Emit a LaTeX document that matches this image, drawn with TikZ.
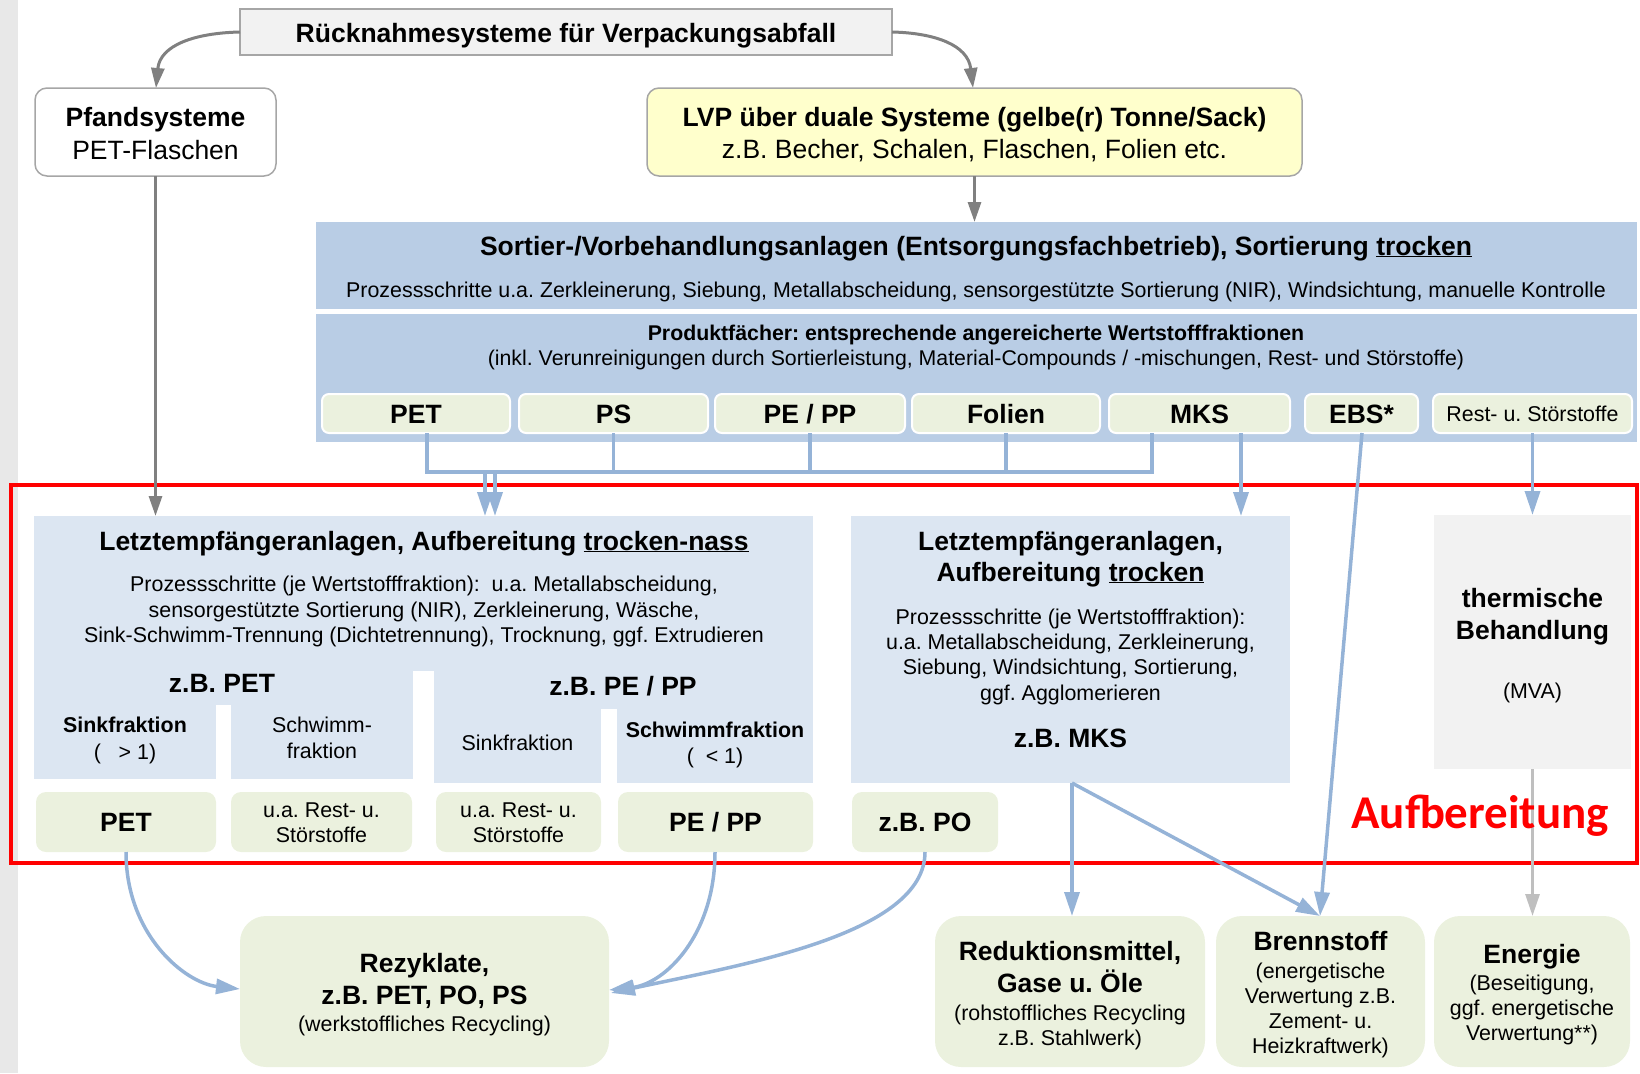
\documentclass[tikz,border=0pt]{standalone}
\usepackage{fontspec}
\setmainfont{Liberation Sans}
\newfontfamily\calfont{Carlito}
\usetikzlibrary{arrows.meta}
\frenchspacing
\definecolor{sortblue}{HTML}{B9CDE5}
\definecolor{lightblue}{HTML}{DCE6F2}
\definecolor{olivebg}{HTML}{EBF1DE}
\definecolor{yel}{HTML}{FFFFCC}
\definecolor{lgray}{HTML}{F2F2F2}
\definecolor{bgray}{HTML}{A6A6A6}
\definecolor{arrblue}{HTML}{95B3D7}
\definecolor{arrgray}{HTML}{808080}
\definecolor{arrlgray}{HTML}{BFBFBF}
\definecolor{stripgray}{HTML}{E8E8E8}
\newcommand\mybox[6]{\node[#6,anchor=north west,inner sep=0pt,outer sep=0pt,minimum width={#4-#2},minimum height={#5-#3}] (#1) at (#2,#3) {};}
\newcommand\tl[5]{\node[#4] (#1) at (#2,#3) {#5};}
\begin{document}
\frenchspacing
\begin{tikzpicture}[x=1pt,y=-1pt,
  txB/.style={font=\fontsize{26.5}{32}\selectfont\bfseries,anchor=base,inner sep=0pt},
  txR/.style={font=\fontsize{26.5}{32}\selectfont,anchor=base,inner sep=0pt},
  txS/.style={font=\fontsize{21.4}{25.5}\selectfont,anchor=base,inner sep=0pt},
  txSB/.style={font=\fontsize{21.4}{25.5}\selectfont\bfseries,anchor=base,inner sep=0pt},
  txP/.style={font=\fontsize{21.3}{25}\selectfont,anchor=base,inner sep=0pt},
  txPB/.style={font=\fontsize{21.3}{25}\selectfont\bfseries,anchor=base,inner sep=0pt},
  smallbox/.style={fill=olivebg,draw=white,line width=2pt,rounded corners=7pt},
  resbox/.style={fill=olivebg,rounded corners=10pt},
  bigres/.style={fill=olivebg,rounded corners=26pt},
  lbfill/.style={fill=lightblue},
  bl/.style={draw=arrblue,line width=3.5pt},
  bla/.style={draw=arrblue,line width=3.5pt,-{Triangle[length=24pt,width=15pt]},color=arrblue},
  gra/.style={draw=arrgray,line width=3pt,-{Triangle[length=20pt,width=13pt]},color=arrgray},
  lga/.style={draw=arrlgray,line width=3pt,-{Triangle[length=22pt,width=14pt]},color=arrlgray}
]
\useasboundingbox (0,0) rectangle (1640,1073);
\fill[stripgray] (0,0) rectangle (18,1073);

% top
\mybox{title}{240}{9}{892}{55}{fill=lgray,draw=bgray,line width=1.5pt}
\tl{tTitle}{566}{42.5}{txB}{Rücknahmesysteme für Verpackungsabfall}
\mybox{pfand}{35}{88}{276}{176}{fill=white,draw=bgray,line width=1.5pt,rounded corners=12pt}
\tl{tPf1}{155.5}{126}{txB}{Pfandsysteme}
\tl{tPf2}{155.5}{159}{txR}{PET-Flaschen}
\mybox{lvp}{647}{88}{1302}{176}{fill=yel,draw=bgray,line width=1.5pt,rounded corners=12pt}
\tl{tLv1}{974.5}{126}{txB}{LVP über duale Systeme (gelbe(r) Tonne/Sack)}
\tl{tLv2}{974.5}{158.5}{txR}{z.B. Becher, Schalen, Flaschen, Folien etc.}

% sorting
\mybox{sort}{316}{222}{1637}{309}{fill=sortblue}
\tl{tSo1}{976}{255}{txB}{Sortier-/Vorbehandlungsanlagen (Entsorgungsfachbetrieb), Sortierung \underline{trocken}}
\tl{tSo2}{976}{297.5}{txS}{Prozessschritte u.a. Zerkleinerung, Siebung, Metallabscheidung, sensorgestützte Sortierung (NIR), Windsichtung, manuelle Kontrolle}
\mybox{prod}{316}{314}{1637}{442}{fill=sortblue}
\tl{tPr1}{976}{340}{txPB}{Produktfächer: entsprechende angereicherte Wertstofffraktionen}
\tl{tPr2}{976}{365}{txP}{(inkl. Verunreinigungen durch Sortierleistung, Material-Compounds / -mischungen, Rest- und Störstoffe)}

\mybox{sPET}{322}{394}{510}{433}{smallbox}
\mybox{sPS}{519}{394}{708}{433}{smallbox}
\mybox{sPEPP}{715}{394}{905}{433}{smallbox}
\mybox{sFol}{912}{394}{1100}{433}{smallbox}
\mybox{sMKS}{1109}{394}{1290}{433}{smallbox}
\mybox{sEBS}{1305}{394}{1418}{433}{smallbox}
\mybox{sRest}{1433}{394}{1632}{433}{smallbox}
\tl{tsPET}{416}{423}{txB}{PET}
\tl{tsPS}{613.5}{423}{txB}{PS}
\tl{tsPEPP}{810}{423}{txB}{PE / PP}
\tl{tsFol}{1006}{423}{txB}{Folien}
\tl{tsMKS}{1199.5}{423}{txB}{MKS}
\tl{tsEBS}{1361.5}{423}{txB}{EBS*}
\tl{tsRest}{1532.5}{421}{txS}{Rest- u. Störstoffe}

% trocken-nass
\mybox{tn}{34}{516}{813}{671}{lbfill}
\mybox{tnL}{34}{670}{413}{705}{lbfill}
\mybox{tnSink}{34}{704}{216}{779}{lbfill}
\mybox{tnSchw}{231}{704}{413}{779}{lbfill}
\mybox{tnR}{434}{670}{813}{709}{lbfill}
\mybox{tnSink2}{434}{708}{601}{783}{lbfill}
\mybox{tnSchw2}{617}{708}{813}{783}{lbfill}
\tl{tTn1}{424}{550}{txB}{Letztempfängeranlagen, Aufbereitung \underline{trocken-nass}}
\tl{tTn2}{424}{591}{txS}{Prozessschritte (je Wertstofffraktion):\ \ u.a. Metallabscheidung,}
\tl{tTn3}{424}{617}{txS}{sensorgestützte Sortierung (NIR), Zerkleinerung, Wäsche,}
\tl{tTn4}{424}{642}{txS}{Sink-Schwimm-Trennung (Dichtetrennung), Trocknung, ggf. Extrudieren}
\tl{tTnA}{222}{692}{txB}{z.B. PET}
\tl{tTnB}{623}{695}{txB}{z.B. PE / PP}
\tl{tSk1}{125}{732}{txSB}{Sinkfraktion}
\tl{tSk2}{125}{759}{txS}{(\ \ \ > 1)}
\tl{tSw1}{322}{732}{txS}{Schwimm-}
\tl{tSw2}{322}{758}{txS}{fraktion}
\tl{tSk3}{517.5}{750}{txS}{Sinkfraktion}
\tl{tSw3}{715}{737.5}{txSB}{Schwimmfraktion}
\tl{tSw4}{715}{763.5}{txS}{(\ \ < 1)}

\mybox{bPET}{36}{792}{216}{852}{resbox}
\mybox{bRest1}{231}{792}{412}{852}{resbox}
\mybox{bRest2}{436}{792}{601}{852}{resbox}
\mybox{bPEPP}{618}{792}{813}{852}{resbox}
\mybox{bPO}{852}{792}{998}{852}{resbox}
\tl{tbPET}{126}{831.5}{txB}{PET}
\tl{tbR1}{321.5}{817}{txS}{u.a. Rest- u.}
\tl{tbR2}{321.5}{842}{txS}{Störstoffe}
\tl{tbR3}{518.5}{817}{txS}{u.a. Rest- u.}
\tl{tbR4}{518.5}{842}{txS}{Störstoffe}
\tl{tbPEPP}{715.5}{831.5}{txB}{PE / PP}
\tl{tbPO}{925}{831.5}{txB}{z.B. PO}

% trocken
\mybox{tr}{851}{516}{1290}{783}{lbfill}
\tl{tTr1}{1070.5}{550}{txB}{Letztempfängeranlagen,}
\tl{tTr2}{1070.5}{581}{txB}{Aufbereitung \underline{trocken}}
\tl{tTr3}{1070.5}{624.5}{txS}{Prozessschritte (je Wertstofffraktion):}
\tl{tTr4}{1070.5}{649.5}{txS}{u.a. Metallabscheidung, Zerkleinerung,}
\tl{tTr5}{1070.5}{674.5}{txS}{Siebung, Windsichtung, Sortierung,}
\tl{tTr6}{1070.5}{700}{txS}{ggf. Agglomerieren}
\tl{tTr7}{1070.5}{747.5}{txB}{z.B. MKS}

% thermal
\mybox{th}{1434}{515}{1631}{769}{fill=lgray}
\tl{tTh1}{1532.5}{607.5}{txB}{thermische}
\tl{tTh2}{1532.5}{639}{txB}{Behandlung}
\tl{tTh3}{1532.5}{698.5}{txS}{(MVA)}

% red frame
\node[draw=red,line width=4.5pt,anchor=north west,inner sep=0pt,outer sep=0pt,minimum width=1626,minimum height=378] (frame) at (11,485) {};

% results
\mybox{rez}{240}{916}{609}{1067}{bigres}
\tl{tRz1}{424.5}{972.5}{txB}{Rezyklate,}
\tl{tRz2}{424.5}{1004}{txB}{z.B. PET, PO, PS}
\tl{tRz3}{424.5}{1031.5}{txS}{(werkstoffliches Recycling)}
\mybox{red}{935}{916}{1205}{1067}{bigres}
\tl{tRd1}{1070}{960}{txB}{Reduktionsmittel,}
\tl{tRd2}{1070}{992.5}{txB}{Gase u. Öle}
\tl{tRd3}{1070}{1020}{txS}{(rohstoffliches Recycling}
\tl{tRd4}{1070}{1045}{txS}{z.B. Stahlwerk)}
\mybox{bren}{1216}{916}{1425}{1067}{bigres}
\tl{tBr1}{1320.5}{950.5}{txB}{Brennstoff}
\tl{tBr2}{1320.5}{978}{txS}{(energetische}
\tl{tBr3}{1320.5}{1003}{txS}{Verwertung z.B.}
\tl{tBr4}{1320.5}{1028}{txS}{Zement- u.}
\tl{tBr5}{1320.5}{1053}{txS}{Heizkraftwerk)}
\mybox{ener}{1434}{916}{1630}{1067}{bigres}
\tl{tEn1}{1532}{963.5}{txB}{Energie}
\tl{tEn2}{1532}{990.5}{txS}{(Beseitigung,}
\tl{tEn3}{1532}{1015.5}{txS}{ggf. energetische}
\tl{tEn4}{1532}{1040.5}{txS}{Verwertung**)}

% connectors top
\draw[gra] (title.west) .. controls (195,33) and (160,45) .. (156,88);
\draw[gra] (title.east) .. controls (935,33) and (968,45) .. (973,88);
\draw[gra] (lvp.south) -- (lvp.south |- sort.north);
\draw[gra] (pfand.south) -- (pfand.south |- tn.north);

% bus
\coordinate (b1) at (427,472);
\coordinate (b5) at (1152,472);
\draw[bl] (sPET.south -| b1) -- (b1) -- (b5) -- (sMKS.south -| b5);
\draw[bl] (sPS.south) -- (sPS.south |- b1);
\draw[bl] (sPEPP.south) -- (sPEPP.south |- b1);
\draw[bl] (sFol.south) -- (sFol.south |- b1);
\coordinate (ba) at (485,472);
\coordinate (bb) at (495,472);
\draw[bla] (ba) -- (ba |- tn.north);
\draw[bla] (bb) -- (bb |- tn.north);

\coordinate (mk) at (1241,433);
\draw[bla] (mk) -- (mk |- tr.north);
\coordinate (eb) at (1362,433);
\coordinate (brtop) at (1320,916);
\draw[bla] (eb) -- (brtop);
\draw[bla] (sRest.south) -- (sRest.south |- th.north);
\draw[lga] (th.south) -- (th.south |- ener.north);
\coordinate (mkb) at (1072,783);
\draw[bla] (mkb) -- (mkb |- red.north);
\draw[bla] (mkb) -- (brtop);

% to Rezyklate
\coordinate (rzl) at (240,989);
\coordinate (rzr) at (609,990);
\coordinate (pA) at (126,852);
\coordinate (pB) at (715,852);
\coordinate (pC) at (925,852);
\draw[bla] (pA) .. controls (126,935) and (185,983) .. (rzl);
\draw[bla] (pB) .. controls (715,935) and (665,984) .. (rzr);
\draw[bla] (pC) .. controls (925,935) and (740,965) .. (611,993);

% label on top of lines
\node[anchor=base,inner sep=0pt,text=red,font=\calfont\fontsize{47}{56}\selectfont\bfseries] (aufb) at (1480,828) {Aufbereitung};
\end{tikzpicture}
\end{document}
